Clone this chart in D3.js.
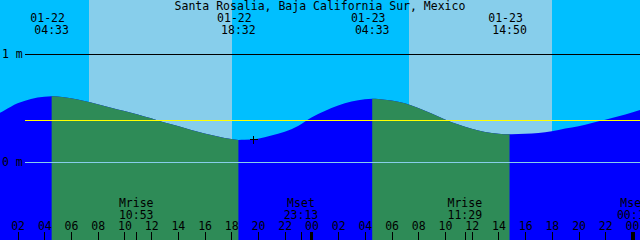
<!DOCTYPE html>
<html>
<head>
<meta charset="utf-8">
<script src="https://cdn.jsdelivr.net/npm/d3@7"></script>
<style>
  html, body { margin: 0; padding: 0; background: #00BFFF; }
  svg { display: block; }
  text { font-family: 'DejaVu Sans Mono', monospace; font-size: 11.5px; fill: #000; }
</style>
</head>
<body>
<svg id="chart" width="640" height="240"></svg>
<script>
// ---------- data ----------
const titleText = "Santa Rosalia, Baja California Sur, Mexico";
const viewStart = "01-22 00:41";
const viewEnd   = "01-24 00:36";

// tide level (m), hours counted from 01-22 00:00
const tideHours  = [0, 1, 2, 3, 4, 4.55, 5, 6, 7, 8, 9, 10, 11, 12, 13, 14, 15, 16, 17, 18, 18.533, 19, 20, 21, 22, 23, 24,
                    25, 26, 27, 28, 28.55, 29, 30, 31, 32, 33, 34, 35, 36, 37, 38, 38.833, 39, 40, 41, 42, 43, 44, 45, 46, 47, 48, 49];
const tideLevels = [0.415, 0.481, 0.548, 0.589, 0.609, 0.613, 0.611, 0.595, 0.569, 0.539, 0.507, 0.476, 0.445, 0.409, 0.370, 0.337, 0.302, 0.269, 0.241, 0.217, 0.209, 0.210, 0.221, 0.250, 0.284, 0.338, 0.417,
                    0.477, 0.527, 0.564, 0.586, 0.591, 0.589, 0.574, 0.549, 0.505, 0.454, 0.398, 0.351, 0.312, 0.283, 0.266, 0.261, 0.261, 0.266, 0.274, 0.289, 0.314, 0.336, 0.366, 0.395, 0.428, 0.463, 0.500];

// high / low tide events
const eventStamps = ["01-22 04:33", "01-22 18:32", "01-23 04:33", "01-23 14:50"];
const eventKinds  = ["high", "low", "high", "low"];

// daylight
const sunRises = ["01-22 07:21", "01-23 07:18"];
const sunSets  = ["01-22 18:03", "01-23 18:01"];

// moon events
const moonLabels = ["Mrise", "Mset", "Mrise", "Mset"];
const moonStamps = ["01-22 10:53", "01-22 23:13", "01-23 11:29", "01-24 00:10"];

// hour axis
const tickHours  = [2, 4, 6, 8, 10, 12, 14, 16, 18, 20, 22, 24, 26, 28, 30, 32, 34, 36, 38, 40, 42, 44, 46, 48];
const tickLabels = ["02","04","06","08","10","12","14","16","18","20","22","00",
                    "02","04","06","08","10","12","14","16","18","20","22","00"];

// level lines
const levelValues = [1, 0];
const levelLabels = ["1 m", "0 m"];
const meanLevel = 0.389;
const nowStamp = "01-22 19:39";
const nowLevel = 0.215;

// ---------- helpers ----------
function toHours(stamp) {
  const [md, hm] = stamp.split(" ");
  const day = +md.split("-")[1];
  const [h, m] = hm.split(":").map(Number);
  return (day - 22) * 24 + h + m / 60;
}

const W = 640, H = 240;
const svg = d3.select("#chart");

const x = d3.scaleLinear().domain([toHours(viewStart), toHours(viewEnd)]).range([0, W]);
const y = d3.scaleLinear().domain([0, 1]).range([162.5, 54.5]);

// background (night)
svg.append("rect").attr("width", W).attr("height", H).attr("fill", "#00BFFF");

// daylight bands
svg.append("g").selectAll("rect").data(sunRises).join("rect")
  .attr("x", (d) => x(toHours(d)))
  .attr("width", (d, i) => x(toHours(sunSets[i])) - x(toHours(d)))
  .attr("y", 0).attr("height", H)
  .attr("fill", "#87CEEB")
  .attr("shape-rendering", "crispEdges");

// 1 m line (behind water)
svg.append("line")
  .attr("x1", 25).attr("x2", W)
  .attr("y1", y(1)).attr("y2", y(1))
  .attr("stroke", "#000").attr("stroke-width", 1)
  .attr("shape-rendering", "crispEdges");

// tide area
const tide = tideHours.map((h, i) => ({ t: h, v: tideLevels[i] }));
const area = d3.area()
  .x((d) => x(d.t))
  .y0(H)
  .y1((d) => y(d.v))
  .curve(d3.curveMonotoneX);

// falling intervals (high -> next low)
const falling = [];
eventKinds.forEach((k, i) => {
  if (k === "high" && i + 1 < eventKinds.length) falling.push([toHours(eventStamps[i]), toHours(eventStamps[i + 1])]);
});

const defs = svg.append("defs");
const clip = defs.append("clipPath").attr("id", "fallClip");
clip.selectAll("rect").data(falling).join("rect")
  .attr("x", (d) => x(d[0])).attr("width", (d) => x(d[1]) - x(d[0]))
  .attr("y", 0).attr("height", H);

svg.append("path").datum(tide).attr("d", area).attr("fill", "#0000FF");
svg.append("path").datum(tide).attr("d", area).attr("fill", "#2E8B57").attr("clip-path", "url(#fallClip)");

// mean level line
svg.append("line")
  .attr("x1", 25).attr("x2", W)
  .attr("y1", y(meanLevel)).attr("y2", y(meanLevel))
  .attr("stroke", "#FFFF00").attr("stroke-width", 1)
  .attr("shape-rendering", "crispEdges");

// 0 m line
svg.append("line")
  .attr("x1", 25).attr("x2", W)
  .attr("y1", y(0)).attr("y2", y(0))
  .attr("stroke", "#87CEEB").attr("stroke-width", 1)
  .attr("shape-rendering", "crispEdges");

// level labels
svg.append("g").selectAll("text").data(levelValues).join("text")
  .attr("x", 2).attr("y", (d) => y(d) + 3.5)
  .text((d, i) => levelLabels[i]);

// title
svg.append("text").attr("x", W / 2).attr("y", 10).attr("text-anchor", "middle").text(titleText);

// tide event labels
const evG = svg.append("g");
evG.selectAll("text.date").data(eventStamps).join("text")
  .attr("class", "date")
  .attr("x", (d) => x(toHours(d)) - 4).attr("y", 21.5)
  .attr("text-anchor", "middle")
  .text((d) => d.split(" ")[0]);
evG.selectAll("text.time").data(eventStamps).join("text")
  .attr("class", "time")
  .attr("x", (d) => x(toHours(d))).attr("y", 33.5)
  .attr("text-anchor", "middle")
  .text((d) => d.split(" ")[1]);

// "now" marker
const nx = Math.round(x(toHours(nowStamp))) + 0.5, ny = Math.round(y(nowLevel)) + 0.5;
svg.append("path")
  .attr("d", `M${nx - 4},${ny}H${nx + 4}M${nx},${ny - 4}V${ny + 4}`)
  .attr("stroke", "#000").attr("stroke-width", 1)
  .attr("shape-rendering", "crispEdges");

// hour axis
const axis = d3.axisTop(x)
  .tickValues(tickHours)
  .tickSize(8)
  .tickPadding(2)
  .tickFormat((d, i) => tickLabels[i]);
const axG = svg.append("g").attr("transform", `translate(0,${H})`).call(axis);
axG.select(".domain").remove();
axG.attr("font-family", null).attr("font-size", null);
axG.selectAll("line").attr("stroke", "#000").attr("shape-rendering", "crispEdges")
  .attr("stroke-width", (d) => (d % 24 === 0 ? 3 : 1));
axG.selectAll("text").attr("fill", "#000");

// moon events
const moonG = svg.append("g");
moonG.selectAll("line").data(moonStamps).join("line")
  .attr("x1", (d) => Math.round(x(toHours(d))) + 0.5)
  .attr("x2", (d) => Math.round(x(toHours(d))) + 0.5)
  .attr("y1", 232).attr("y2", H)
  .attr("stroke", "#000").attr("shape-rendering", "crispEdges");
moonG.selectAll("text.ml").data(moonStamps).join("text")
  .attr("class", "ml")
  .attr("x", (d) => x(toHours(d))).attr("y", 206.5)
  .attr("text-anchor", "middle")
  .text((d, i) => moonLabels[i]);
moonG.selectAll("text.mt").data(moonStamps).join("text")
  .attr("class", "mt")
  .attr("x", (d) => x(toHours(d))).attr("y", 219)
  .attr("text-anchor", "middle")
  .text((d) => d.split(" ")[1]);
</script>
</body>
</html>
